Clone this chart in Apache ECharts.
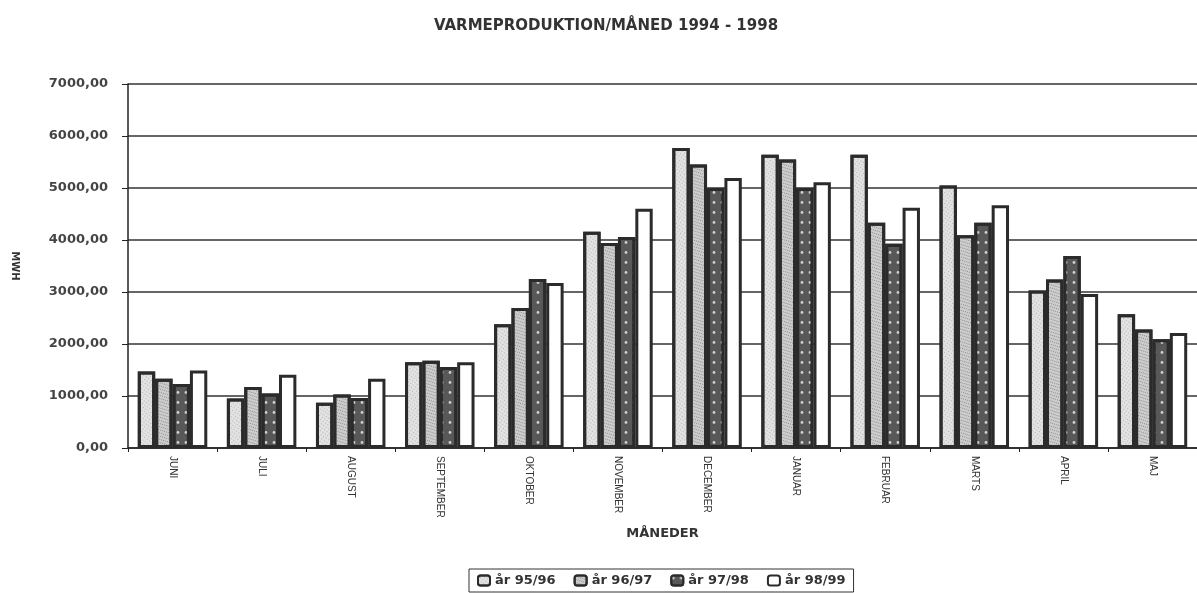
<!DOCTYPE html>
<html>
<head>
<meta charset="utf-8">
<script src="https://cdn.jsdelivr.net/npm/echarts@6/dist/echarts.min.js"></script>
<style>
  html, body { margin: 0; padding: 0; background: #fff; }
  #chartmain { width: 1197px; height: 593px; }
</style>
</head>
<body>
<div id="chartmain"></div>
<script>
// maaneder (juni - maj)
var months = ['JUNI', 'JULI', 'AUGUST', 'SEPTEMBER', 'OKTOBER', 'NOVEMBER', 'DECEMBER', 'JANUAR', 'FEBRUAR', 'MARTS', 'APRIL', 'MAJ'];
var seriesNames = ['år 95/96', 'år 96/97', 'år 97/98', 'år 98/99'];

// MWH pr. maaned, aflaest fra figuren
var aar9596 = [1470, 950, 870, 1650, 2380, 4160, 5770, 5640, 5640, 5050, 3030, 2570];
var aar9697 = [1330, 1175, 1030, 1680, 2690, 3940, 5450, 5550, 4330, 4090, 3240, 2280];
var aar9798 = [1230, 1050, 960, 1560, 3250, 4060, 5000, 5000, 3930, 4330, 3690, 2090];
var aar9899 = [1490, 1410, 1330, 1650, 3175, 4600, 5190, 5110, 4620, 4670, 2960, 2210];

var yTicks = [0, 1000, 2000, 3000, 4000, 5000, 6000, 7000];

var myChart = echarts.init(document.getElementById('chartmain'));

var fills = ['#e2e2e2', '#cdcdcd', '#585858', '#ffffff'];
var decals = [
    {symbol: 'rect', symbolSize: 1, color: 'rgba(120,120,120,0.45)', dashArrayX: [1, 2], dashArrayY: [1, 2], rotation: 0.6},
    {symbol: 'rect', symbolSize: 1, color: 'rgba(80,80,80,0.5)', dashArrayX: [1, 1], dashArrayY: [1, 2], rotation: 0.3},
    {symbol: 'circle', symbolSize: 0.7, color: 'rgba(235,235,235,0.8)', dashArrayX: [4, 4], dashArrayY: [5, 5], rotation: 0},
    null
];
var allData = [aar9596, aar9697, aar9798, aar9899];

var series = [];
for (var i = 0; i < 4; i++) {
    var style = {
        color: fills[i],
        borderColor: '#2b2b2b',
        borderWidth: 3
    };
    if (decals[i]) {
        style.decal = decals[i];
    }
    series.push({
        name: seriesNames[i],
        type: 'bar',
        barGap: '0%',
        barCategoryGap: '22%',
        data: allData[i],
        itemStyle: style,
        emphasis: {disabled: true}
    });
}

var option = {
    backgroundColor: '#ffffff',
    animation: false,
    title: {
        text: 'VARMEPRODUKTION/MÅNED 1994 - 1998',
        left: 601,
        top: 14,
        textAlign: 'center',
        textStyle: {
            fontFamily: 'DejaVu Sans',
            fontSize: 15,
            fontWeight: 'bold',
            color: '#333'
        }
    },
    legend: {
        data: seriesNames,
        top: 569,
        left: 469,
        itemWidth: 12,
        itemHeight: 10,
        itemGap: 18,
        borderColor: '#333',
        borderWidth: 1,
        borderRadius: 0,
        padding: [5, 8],
        textStyle: {
            fontFamily: 'DejaVu Sans',
            fontSize: 13,
            fontWeight: 'bold',
            color: '#333'
        }
    },
    grid: {
        left: 128,
        top: 84,
        width: 1080,
        bottom: 145,
        containLabel: false
    },
    xAxis: [{
        type: 'category',
        data: months,
        name: 'MÅNEDER',
        nameLocation: 'middle',
        nameGap: 79,
        nameTextStyle: {
            fontFamily: 'DejaVu Sans',
            fontSize: 13,
            fontWeight: 'bold',
            color: '#333'
        },
        axisLine: {lineStyle: {color: '#222', width: 1.5}},
        axisTick: {show: true, length: 4, lineStyle: {color: '#222'}},
        axisLabel: {
            rotate: -90,
            interval: 0,
            margin: 8,
            fontFamily: 'Liberation Sans',
            fontSize: 10,
            color: '#333'
        }
    }],
    yAxis: [{
        type: 'value',
        min: 0,
        max: 7000,
        interval: 1000,
        name: 'MWH',
        nameLocation: 'middle',
        nameGap: 108,
        nameRotate: -90,
        nameTextStyle: {
            fontFamily: 'DejaVu Sans',
            fontSize: 10,
            fontWeight: 'bold',
            color: '#333'
        },
        axisLine: {show: true, lineStyle: {color: '#222', width: 1.5}},
        axisTick: {show: true, length: 6, lineStyle: {color: '#222'}},
        splitLine: {show: true, lineStyle: {color: '#333', width: 1.5}},
        axisLabel: {
            margin: 20,
            fontFamily: 'DejaVu Sans',
            fontSize: 13,
            fontWeight: 'bold',
            color: '#444',
            formatter: function (v) {
                return yTicks.indexOf(v) >= 0 ? v.toFixed(2).replace('.', ',') : '';
            }
        }
    }],
    series: series
};

myChart.setOption(option);
</script>
</body>
</html>
